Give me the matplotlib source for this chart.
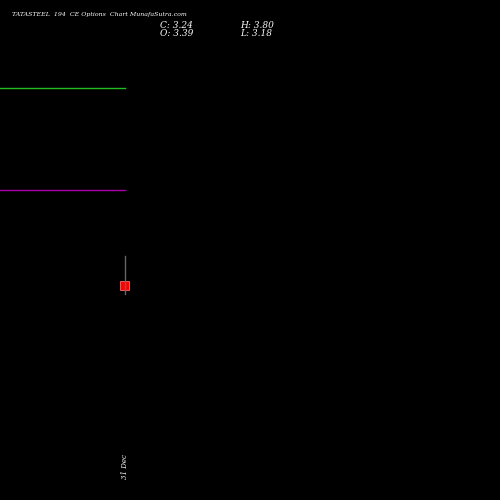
import matplotlib
matplotlib.use("Agg")
import matplotlib.pyplot as plt
from matplotlib.patches import Rectangle

# candle data
dates = ['31 Dec']
opens = [3.39]
highs = [3.80]
lows = [3.18]
closes = [3.24]
green_level = 6.61
magenta_level = 4.91

fig = plt.figure(figsize=(5, 5), dpi=100, facecolor='black')
ax = fig.add_axes([0, 0, 1, 1])
ax.set_facecolor('black')
ax.set_xlim(-1, 3.016)
ax.set_ylim(-0.26, 8.07)
ax.axis('off')

ax.plot([-1, 0], [green_level, green_level], color='#22bb22', lw=1)
ax.plot([-1, 0], [magenta_level, magenta_level], color='#aa00aa', lw=1)

for i, (o, h, l, c) in enumerate(zip(opens, highs, lows, closes)):
    ax.plot([i, i], [l, h], color='#666666', lw=1)
    ax.add_patch(Rectangle((i - 0.036, min(o, c)), 0.072, abs(o - c),
                           facecolor='red', edgecolor='#ff6666', lw=0.6))
    ax.text(i, 0.3, dates[i], rotation=90, color='white', fontsize=5,
            family='serif', style='italic', ha='center', va='center')

fig.text(0.024, 0.971, 'TATASTEEL  194  CE Options  Chart MunafaSutra.com', color='white',
         fontsize=4.5, family='serif', style='italic', va='center')
fig.text(0.32, 0.95, 'C: 3.24', color='white', fontsize=6.5, family='serif', style='italic', va='center')
fig.text(0.32, 0.934, 'O: 3.39', color='white', fontsize=6.5, family='serif', style='italic', va='center')
fig.text(0.48, 0.95, 'H: 3.80', color='white', fontsize=6.5, family='serif', style='italic', va='center')
fig.text(0.48, 0.934, 'L: 3.18', color='white', fontsize=6.5, family='serif', style='italic', va='center')

fig.savefig('out.png', facecolor='black')
